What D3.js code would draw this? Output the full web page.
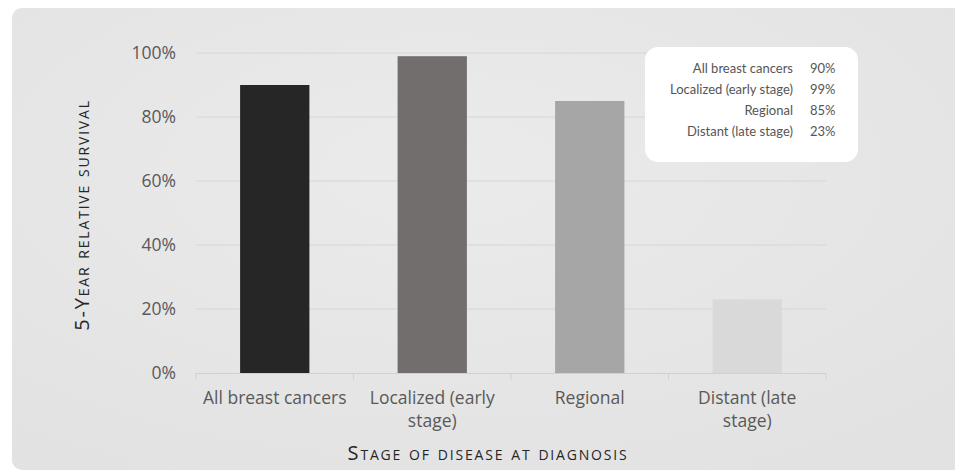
<!DOCTYPE html>
<html>
<head>
<meta charset="utf-8">
<script src="https://cdn.jsdelivr.net/npm/d3@7"></script>
<style>
  html, body { margin: 0; padding: 0; background: #ffffff; }
  svg { display: block; }
</style>
</head>
<body>
<svg id="chart" width="955" height="471"></svg>
<script>
// Five-year relative survival by stage at diagnosis
const categories = ["All breast cancers", "Localized (early stage)", "Regional", "Distant (late stage)"];
const axisLabels = [["All breast cancers"], ["Localized (early", "stage)"], ["Regional"], ["Distant (late", "stage)"]];
const survival = [90, 99, 85, 23];
const barColors = ["#262626", "#726e6d", "#a6a6a6", "#d9d9d9"];
const yTicks = [0, 20, 40, 60, 80, 100];

const svg = d3.select("#chart");
const W = 955, H = 471;

// softly shaded panel background
const defs = svg.append("defs");
const grad = defs.append("radialGradient").attr("id", "panelGrad")
  .attr("cx", "45%").attr("cy", "35%").attr("r", "75%");
grad.append("stop").attr("offset", "0%").attr("stop-color", "#ebebeb");
grad.append("stop").attr("offset", "100%").attr("stop-color", "#e2e2e2");

svg.append("rect")
  .attr("x", 12).attr("y", 8)
  .attr("width", W).attr("height", 462)
  .attr("rx", 10).attr("ry", 10)
  .attr("fill", "url(#panelGrad)");

const margin = { left: 196, right: 129, top: 53, bottom: 98 };
const plotW = W - margin.left - margin.right;
const plotH = H - margin.top - margin.bottom;

const x = d3.scaleBand()
  .domain(categories)
  .range([margin.left, margin.left + plotW])
  .paddingInner(0.56)
  .paddingOuter(0.28);

const y = d3.scaleLinear()
  .domain([0, 100])
  .range([margin.top + plotH, margin.top]);

const labelFont = "'Open Sans', sans-serif";

// horizontal gridlines
svg.append("g")
  .selectAll("line")
  .data(yTicks.filter(t => t > 0))
  .join("line")
  .attr("x1", margin.left).attr("x2", margin.left + plotW)
  .attr("y1", d => y(d)).attr("y2", d => y(d))
  .attr("stroke", "#d6d6d6").attr("stroke-width", 1);

// y axis labels
const yAxis = svg.append("g")
  .attr("transform", `translate(${margin.left},0)`)
  .call(d3.axisLeft(y).tickValues(yTicks).tickFormat(d => d + "%").tickSize(0).tickPadding(20));
yAxis.select(".domain").remove();
yAxis.selectAll("text")
  .attr("fill", "#595959")
  .style("font-family", labelFont)
  .style("font-size", "17.5px");

// bars
svg.append("g")
  .selectAll("rect")
  .data(categories)
  .join("rect")
  .attr("x", d => x(d))
  .attr("width", x.bandwidth())
  .attr("y", (d, i) => y(survival[i]))
  .attr("height", (d, i) => y(0) - y(survival[i]))
  .attr("fill", (d, i) => barColors[i]);

// x axis baseline and category separators
const step = x.step();
const x0 = margin.left;
const baseY = y(0) + 0.5;
svg.append("line")
  .attr("x1", x0).attr("x2", x0 + plotW)
  .attr("y1", baseY).attr("y2", baseY)
  .attr("stroke", "#d0d0d0");
svg.append("g")
  .selectAll("line")
  .data(d3.range(categories.length + 1))
  .join("line")
  .attr("x1", i => x0 + i * step).attr("x2", i => x0 + i * step)
  .attr("y1", baseY).attr("y2", baseY + 6)
  .attr("stroke", "#d0d0d0");

// category labels
const catG = svg.append("g")
  .selectAll("text")
  .data(categories)
  .join("text")
  .attr("x", d => x(d) + x.bandwidth() / 2)
  .attr("y", 404)
  .attr("text-anchor", "middle")
  .attr("fill", "#595959")
  .style("font-family", labelFont)
  .style("font-size", "17.5px");
catG.each(function(d, i) {
  const t = d3.select(this);
  axisLabels[i].forEach((line, j) => {
    t.append("tspan")
      .attr("x", x(d) + x.bandwidth() / 2)
      .attr("dy", j === 0 ? 0 : 23)
      .text(line);
  });
});

// axis titles
svg.append("text")
  .attr("x", 488).attr("y", 460)
  .attr("text-anchor", "middle")
  .attr("fill", "#262626")
  .style("font-family", labelFont)
  .style("font-size", "20px")
  .style("font-variant", "small-caps")
  .style("letter-spacing", "1.8px")
  .text("Stage of disease at diagnosis");

svg.append("text")
  .attr("transform", "translate(89,215) rotate(-90)")
  .attr("text-anchor", "middle")
  .attr("fill", "#262626")
  .style("font-family", labelFont)
  .style("font-size", "20px")
  .style("font-variant", "small-caps")
  .style("letter-spacing", "1.8px")
  .text("5-Year relative survival");

// value legend box
const legend = svg.append("g");
legend.append("rect")
  .attr("x", 645).attr("y", 47)
  .attr("width", 213).attr("height", 115)
  .attr("rx", 13).attr("ry", 13)
  .attr("fill", "#ffffff");

const rowY = d3.scalePoint().domain(categories).range([73, 136]);
legend.selectAll("text.name")
  .data(categories)
  .join("text")
  .attr("class", "name")
  .attr("x", 793)
  .attr("y", d => rowY(d))
  .attr("text-anchor", "end")
  .attr("fill", "#555555")
  .style("font-family", "Lato, sans-serif")
  .style("font-size", "13px")
  .text(d => d);
legend.selectAll("text.val")
  .data(categories)
  .join("text")
  .attr("class", "val")
  .attr("x", 810)
  .attr("y", d => rowY(d))
  .attr("fill", "#555555")
  .style("font-family", "Lato, sans-serif")
  .style("font-size", "13px")
  .text((d, i) => survival[i] + "%");
</script>
</body>
</html>
